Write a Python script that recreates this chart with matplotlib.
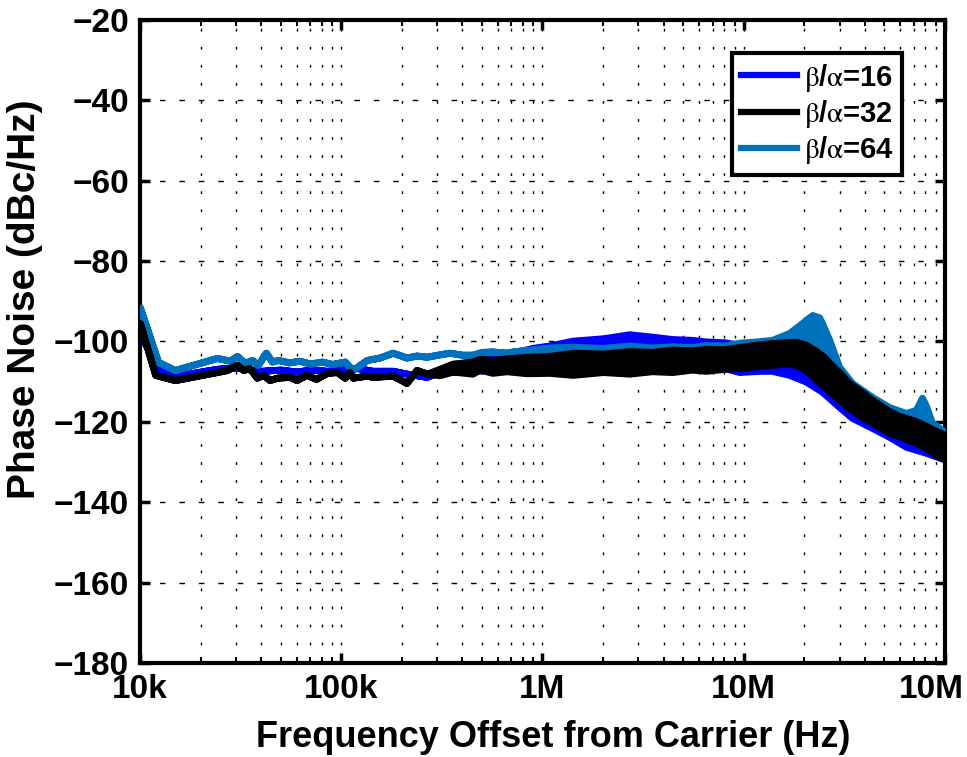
import matplotlib
matplotlib.use("Agg")
import matplotlib.pyplot as plt
from matplotlib.lines import Line2D
from matplotlib.ticker import LogLocator, NullFormatter
from matplotlib.transforms import ScaledTranslation

plt.rcParams['font.family'] = ['Liberation Sans', 'DejaVu Sans']
plt.rcParams['mathtext.fontset'] = 'stix'

# beta/alpha = 64 (light blue)
f64 = [1.0e4, 1.23e4, 1.49e4, 2.41e4, 2.8e4, 3.03e4, 3.32e4, 3.6e4, 3.85e4, 4.22e4,
       4.52e4, 4.84e4, 5.5e4, 6.2e4, 7.0e4, 8.0e4, 9.0e4, 1.04e5, 1.14e5, 1.34e5,
       1.55e5, 1.8e5, 2.11e5, 2.37e5, 2.66e5, 3.08e5, 3.45e5, 4.0e5, 4.49e5, 5.0e5,
       5.64e5, 6.63e5, 7.1e5, 8.33e5, 1.08e6, 1.41e6, 2.0e6, 2.7e6, 3.5e6, 4.42e6,
       5.5e6, 6.51e6, 8.0e6, 9.5e6, 1.15e7, 1.38e7, 1.68e7, 1.95e7, 2.19e7, 2.37e7,
       2.45e7, 2.66e7, 2.98e7, 3.45e7, 4.34e7, 5.27e7, 6.4e7, 7.17e7, 7.69e7, 8.05e7,
       8.62e7, 1.0e8]
hi64 = [-91.6, -105.1, -107.1, -104.1, -104.8, -103.6, -105.3, -104.6, -105.8, -102.8,
        -105.0, -104.6, -105.2, -104.8, -105.5, -105.0, -105.6, -105.0, -107.1, -104.6,
        -104.0, -102.8, -104.0, -103.5, -103.8, -103.2, -102.8, -103.3, -103.3, -102.6,
        -102.5, -102.8, -102.5, -102.1, -101.5, -101.3, -101.6, -101.0, -101.5, -101.2,
        -101.4, -100.9, -101.0, -100.3, -100.0, -99.6, -97.9, -95.4, -93.4, -94.0,
        -95.4, -99.6, -106.3, -110.3, -113.8, -116.3, -117.8, -117.0, -114.0, -116.0,
        -120.2, -122.5]
lo64 = hi64[:34] + [-103.5, -103.8, -103.4, -103.6, -103.2, -103.3, -102.9, -103.0,
                    -102.6, -102.5, -102.3, -102.2, -102.0, -102.5, -103.5, -104.5,
                    -105.5, -107.5, -110.0, -113.0, -116.5, -118.8, -120.5, -121.5,
                    -122.0, -122.5, -123.5, -125.0]

# beta/alpha = 32 (black)
f32 = [1.0e4, 1.19e4, 1.49e4, 2.41e4, 2.7e4, 3.03e4, 3.26e4, 3.5e4, 3.8e4, 4.1e4,
       4.4e4, 4.8e4, 5.55e4, 6.0e4, 6.7e4, 7.5e4, 8.5e4, 9.5e4, 1.04e5, 1.1e5,
       1.14e5, 1.34e5, 1.43e5, 1.8e5, 2.11e5, 2.37e5, 2.66e5, 3.08e5, 3.58e5, 4.49e5,
       4.87e5, 5.64e5, 6.63e5, 8.33e5, 1.08e6, 1.41e6, 2.0e6, 2.7e6, 3.5e6, 4.42e6,
       5.5e6, 6.51e6, 8.0e6, 9.5e6, 1.15e7, 1.38e7, 1.62e7, 1.82e7, 2.04e7, 2.28e7,
       2.5e7, 2.75e7, 2.98e7, 3.34e7, 3.87e7, 4.34e7, 5.27e7, 5.92e7, 7.17e7, 8.05e7,
       9.33e7, 1.0e8]
line32 = [-95.5, -108.3, -109.6, -107.6, -107.1, -105.8, -107.1, -106.6, -109.0, -108.3,
          -109.6, -109.0, -108.8, -109.6, -108.3, -109.3, -107.8, -107.6, -109.0, -107.6,
          -109.0, -108.5, -108.8, -108.5, -110.3, -107.1, -108.0]
hi32 = line32 + [-106.8, -105.5, -105.0, -104.3, -104.6, -104.2, -103.8, -103.6, -102.8,
                 -103.0, -102.4, -102.6, -102.0, -102.2, -101.8, -101.9, -101.4, -100.8,
                 -100.4, -100.2, -100.1, -100.8, -102.3, -103.8, -106.0, -107.6, -110.3,
                 -112.6, -114.5, -117.3, -118.5, -119.8, -121.0, -122.6, -123.2]
lo32 = line32 + [-108.4, -107.5, -108.0, -107.0, -107.8, -107.4, -107.9, -107.8, -108.3,
                 -107.6, -108.0, -107.4, -107.6, -107.0, -107.3, -106.8, -106.6, -106.2,
                 -105.8, -105.6, -105.8, -107.2, -109.4, -111.2, -113.0, -114.5, -116.6,
                 -118.8, -120.2, -122.7, -123.6, -125.2, -126.5, -128.7, -129.0]

# beta/alpha = 16 (blue)
f16 = [1.0e4, 1.23e4, 1.49e4, 2.41e4, 3.0e4, 4.0e4, 5.0e4, 6.0e4, 7.0e4, 8.5e4,
       1.0e5, 1.2e5, 1.43e5, 1.8e5, 2.11e5, 2.66e5, 3.08e5, 3.45e5, 4.49e5, 5.64e5,
       7.1e5, 8.92e5, 1.08e6, 1.41e6, 2.0e6, 2.7e6, 3.5e6, 4.42e6, 5.5e6, 6.51e6,
       8.0e6, 9.5e6, 1.2e7, 1.38e7, 1.68e7, 2.04e7, 2.45e7, 2.98e7, 3.45e7, 4.34e7,
       5.27e7, 6.4e7, 8.05e7, 1.0e8]
hi16 = [-98.0, -107.0, -108.6, -106.8, -106.5, -107.3, -107.0, -107.5, -107.0, -107.3,
        -107.0, -106.6, -107.3, -107.3, -108.0, -108.8, -107.5, -106.0, -104.8, -103.8,
        -102.8, -101.6, -101.0, -99.8, -99.2, -98.2, -98.8, -99.4, -99.6, -100.0,
        -100.2, -100.8, -101.8, -102.2, -103.4, -104.8, -107.2, -110.5, -113.5, -116.5,
        -119.0, -121.2, -123.0, -124.5]
lo16 = hi16[:17] + [-107.6, -107.4, -107.0, -106.5, -106.0, -105.5, -105.5, -105.6,
                    -105.2, -105.6, -105.4, -105.8, -106.0, -106.6, -107.6, -107.3,
                    -107.3, -108.3, -110.0, -112.5, -116.3, -119.0, -121.5, -123.7,
                    -126.2, -127.7, -129.4]

labels = [r'$\mathrm{\beta}$/$\mathrm{\alpha}$=16',
          r'$\mathrm{\beta}$/$\mathrm{\alpha}$=32',
          r'$\mathrm{\beta}$/$\mathrm{\alpha}$=64']
colors = ['#0000FF', '#000000', '#0072BD']

xticks = [1e4, 1e5, 1e6, 1e7, 1e8]
xticklabels = ['10k', '100k', '1M', '10M', '10M']
yticks = [-180, -160, -140, -120, -100, -80, -60, -40, -20]

fig = plt.figure(figsize=(9.67, 7.57), dpi=100)
ax = fig.add_axes([0.1448, 0.1242, 0.8324, 0.8494])

ax.fill_between(f16, lo16, hi16, facecolor=colors[0], edgecolor=colors[0],
                linewidth=5, joinstyle='round', zorder=2)
ax.fill_between(f64, lo64, hi64, facecolor=colors[2], edgecolor=colors[2],
                linewidth=5, joinstyle='round', zorder=3)
ax.fill_between(f32, lo32, hi32, facecolor=colors[1], edgecolor=colors[1],
                linewidth=5, joinstyle='round', zorder=4)

ax.set_xscale('log')
ax.set_xlim(1e4, 1e8)
ax.set_ylim(-180, -20)
ax.set_xticks(xticks)
ax.set_xticklabels(xticklabels)
ax.xaxis.set_minor_locator(LogLocator(base=10, subs=range(2, 10)))
ax.xaxis.set_minor_formatter(NullFormatter())
ax.set_yticks(yticks)

ax.set_axisbelow(True)
ax.grid(True, which='major', axis='y', color='k', lw=1.0, linestyle=(0, (4, 10)))
ax.grid(True, which='both', axis='x', color='k', lw=1.0, linestyle=(0, (2, 11)))

for s in ax.spines.values():
    s.set_linewidth(3)
ax.tick_params(which='both', direction='in', top=True, right=True)
ax.tick_params(which='major', length=7, width=2.5)
ax.tick_params(which='minor', length=4, width=1.5)
ax.tick_params(axis='x', labelsize=24, pad=8)
ax.tick_params(axis='y', labelsize=24, pad=8)
for t in ax.get_xticklabels() + ax.get_yticklabels():
    t.set_fontweight('bold')

# last label sits a little inside the figure edge
last = ax.get_xticklabels()[-1]
last.set_transform(last.get_transform() + ScaledTranslation(-0.14, 0, fig.dpi_scale_trans))

ax.set_xlabel('Frequency Offset from Carrier (Hz)', fontsize=26, fontweight='bold')
ax.xaxis.set_label_coords(0.513, -0.088)
ax.set_ylabel('Phase Noise (dBc/Hz)', fontsize=28, fontweight='bold')
ax.yaxis.set_label_coords(-0.12, 0.565)

handles = [Line2D([], [], color=c, lw=4.5) for c in colors]
leg = ax.legend(handles, labels, loc='upper right', bbox_to_anchor=(0.947, 0.949),
                borderaxespad=0, fancybox=False, framealpha=1, edgecolor='k',
                prop={'size': 21, 'weight': 'bold'}, handlelength=1.9,
                handletextpad=0.25, labelspacing=0.15, borderpad=0.3)
leg.get_frame().set_linewidth(3)
leg.set_zorder(10)

fig.savefig('out.png', dpi=100)
